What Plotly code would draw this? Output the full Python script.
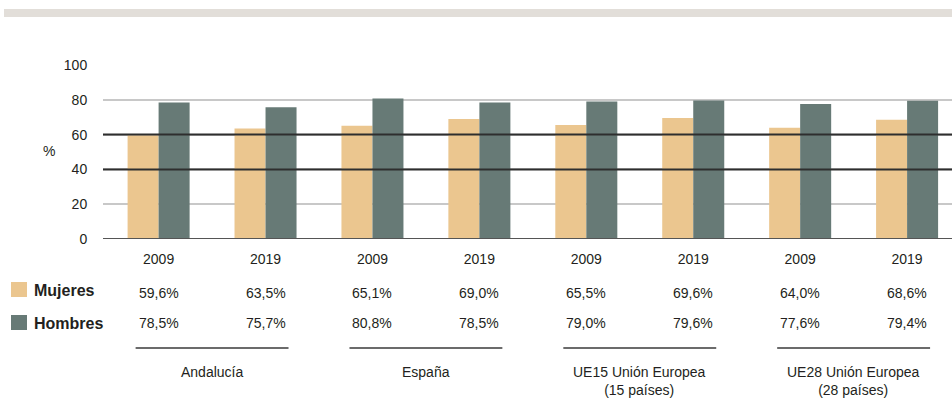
import plotly.graph_objects as go

# ---- data ----
regions = ["Andalucía", "España", "UE15 Unión Europea<br>(15 países)", "UE28 Unión Europea<br>(28 países)"]
years = ["2009", "2019"]
mujeres = [59.6, 63.5, 65.1, 69.0, 65.5, 69.6, 64.0, 68.6]
hombres = [78.5, 75.7, 80.8, 78.5, 79.0, 79.6, 77.6, 79.4]
y_ticks = [0, 20, 40, 60, 80, 100]

C_M = "#EBC68F"
C_H = "#677A76"
FONT = "Liberation Sans, Arial, sans-serif"
TXT = "#231F20"

W, H = 952, 400
PL, PR, PT, PB = 103, 952, 65, 239
L, T, R = PL, PT, W - PR
B = H - PB
PW, PH = W - L - R, H - T - B


def px(x):
    return (x - PL) / PW


def py(y):
    return (PB - y) / PH


xs = list(range(len(mujeres)))
xlabels = [years[i % 2] for i in xs]

fig = go.Figure()
fig.add_trace(go.Bar(x=xs, y=mujeres, name="Mujeres", marker=dict(color=C_M, line=dict(width=0))))
fig.add_trace(go.Bar(x=xs, y=hombres, name="Hombres", marker=dict(color=C_H, line=dict(width=0))))

fig.update_layout(
    width=W, height=H,
    margin=dict(l=L, r=R, t=T, b=B),
    paper_bgcolor="white", plot_bgcolor="white",
    barmode="group", bargap=0.42, bargroupgap=0,
    showlegend=False,
    font=dict(family=FONT, size=14, color=TXT),
)
fig.update_xaxes(
    range=[-0.52, 7.42], tickvals=xs, ticktext=xlabels,
    tickfont=dict(family=FONT, size=14, color=TXT),
    ticks="outside", ticklen=7, tickcolor="rgba(0,0,0,0)",
    showgrid=False, zeroline=False, showline=False,
)
fig.update_yaxes(
    range=[0, 100], tickvals=y_ticks, ticktext=[str(v) for v in y_ticks],
    tickfont=dict(family=FONT, size=14, color=TXT),
    ticks="outside", ticklen=12, tickcolor="rgba(0,0,0,0)",
    showgrid=True, gridcolor="#C8C8C8", gridwidth=2,
    zeroline=False, showline=False,
)

shapes = []
# top band
shapes.append(dict(type="rect", xref="paper", yref="paper", x0=px(4), x1=1.0, y0=py(17), y1=py(9),
                   fillcolor="#E2DED9", line=dict(width=0), layer="below"))
# dark lines at 40 and 60 (above bars)
for v in (40, 60):
    shapes.append(dict(type="line", xref="paper", yref="y", x0=0, x1=1, y0=v, y1=v,
                       line=dict(color="#2E2E2E", width=2), layer="above"))
# zero line
shapes.append(dict(type="line", xref="paper", yref="y", x0=0, x1=1, y0=0, y1=0,
                   line=dict(color="#555555", width=2), layer="above"))
# group underline
for g in range(len(regions)):
    c = 2 * g + 0.5
    shapes.append(dict(type="line", xref="x", yref="paper", x0=c - 0.715, x1=c + 0.715,
                       y0=py(348), y1=py(348), line=dict(color="#3A3A3A", width=1.5)))
# legend squares
for y0, y1, col in ((282, 297, C_M), (315, 330, C_H)):
    shapes.append(dict(type="rect", xref="paper", yref="paper", x0=px(11), x1=px(27),
                       y0=py(y1), y1=py(y0), fillcolor=col, line=dict(width=0)))

ann = []
ann.append(dict(xref="paper", yref="y", x=px(49), y=50.5, text="%", showarrow=False,
                font=dict(family=FONT, size=14, color=TXT), xanchor="center", yanchor="middle"))
for label, yy in (("Mujeres", 290), ("Hombres", 323)):
    ann.append(dict(xref="paper", yref="paper", x=px(32), y=py(yy), text=f"<b>{label}</b>",
                    showarrow=False, xanchor="left", yanchor="middle",
                    font=dict(family=FONT, size=16, color=TXT)))
for i in xs:
    for vals, yy in ((mujeres, 293), (hombres, 323)):
        ann.append(dict(xref="x", yref="paper", x=i, y=py(yy),
                        text=f"{vals[i]:.1f}%".replace(".", ","), showarrow=False,
                        xanchor="center", yanchor="middle",
                        font=dict(family=FONT, size=14, color=TXT)))
for g, name in enumerate(regions):
    ann.append(dict(xref="x", yref="paper", x=2 * g + 0.5, y=py(362), text=name, showarrow=False,
                    xanchor="center", yanchor="top", align="center",
                    font=dict(family=FONT, size=14, color=TXT)))

fig.update_layout(shapes=shapes, annotations=ann)
fig.write_html(
    "out.html",
    config={"displayModeBar": False},
    post_script="document.body.style.margin='0';document.body.style.overflow='hidden';",
)
